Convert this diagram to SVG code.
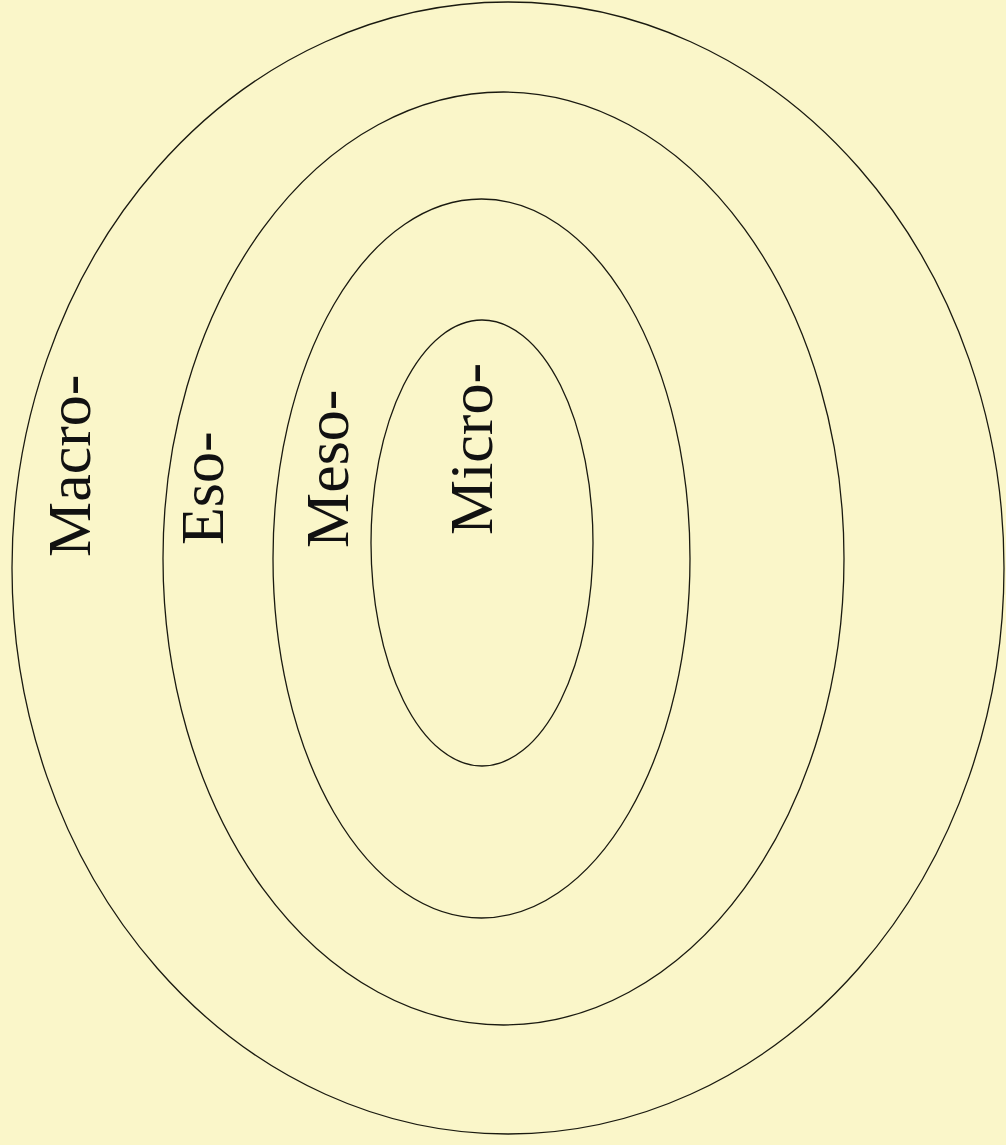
<svg xmlns="http://www.w3.org/2000/svg" width="1006" height="1145" viewBox="0 0 1006 1145">
<style>
.ring{fill:none;stroke:#1a1a10;stroke-width:1.3}
.lbl{font-family:"Liberation Serif","Times New Roman",serif;font-size:62px;fill:#111}
</style>
<rect width="1006" height="1145" fill="#FAF6C9"/>
<g id="macro"><ellipse class="ring" cx="508" cy="568" rx="496" ry="566"/>
<text class="lbl" transform="translate(90,557) rotate(-90)">Macro-</text></g>
<g id="eso"><ellipse class="ring" cx="503.5" cy="558.5" rx="340.5" ry="466.5"/>
<text class="lbl" transform="translate(223,545) rotate(-90)">Eso-</text></g>
<g id="meso"><ellipse class="ring" cx="481.5" cy="558.5" rx="208.5" ry="359.5"/>
<text class="lbl" transform="translate(348,548) rotate(-90)">Meso-</text></g>
<g id="micro"><ellipse class="ring" cx="482" cy="543" rx="111" ry="223"/>
<text class="lbl" transform="translate(492,535) rotate(-90)">Micro-</text></g>
<g id="connectors"/>
</svg>
